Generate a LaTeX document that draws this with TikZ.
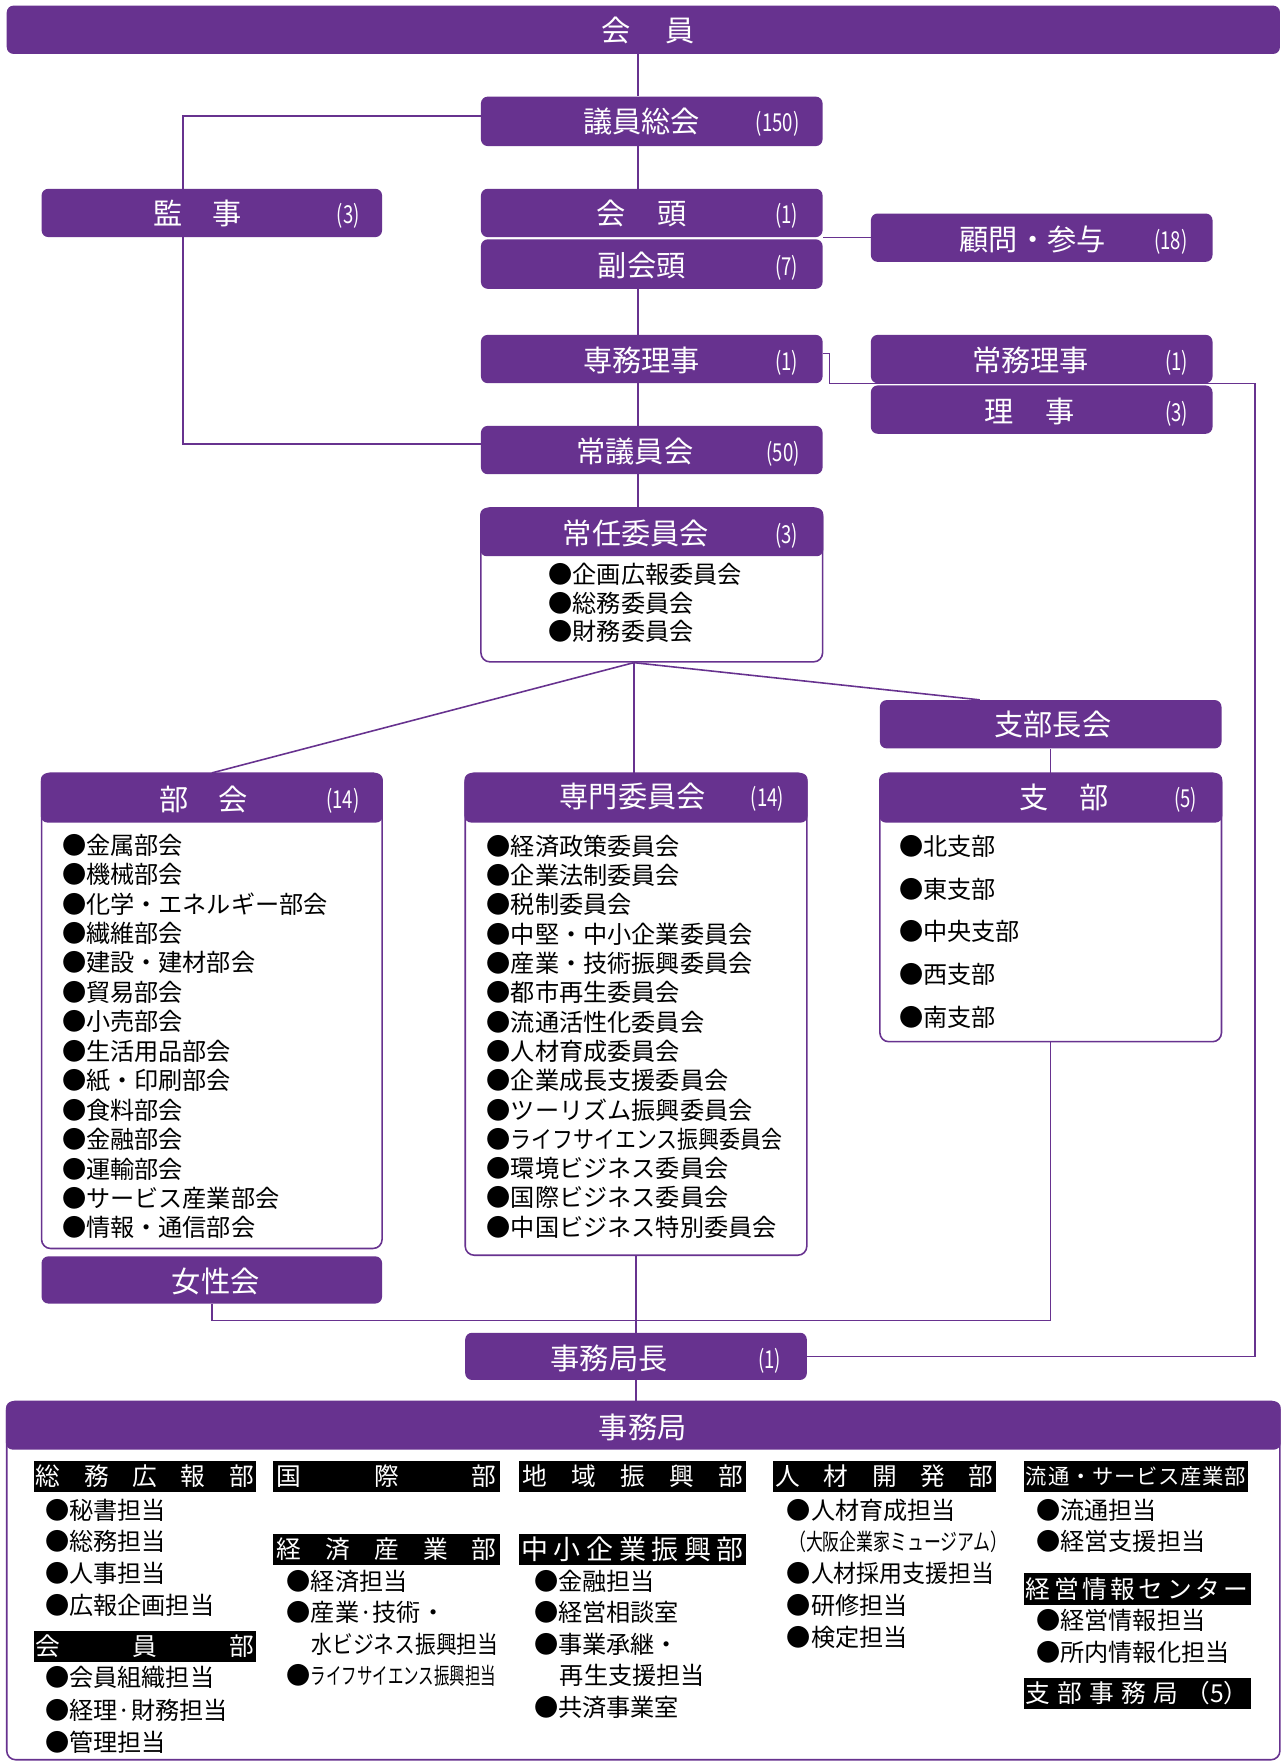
\documentclass[tikz,border=0pt]{standalone}
\usepackage{fontspec}
\newfontfamily\jp{Noto Sans CJK JP}
\newfontfamily\jpn[FakeStretch=0.75]{Noto Sans CJK JP}
\definecolor{pur}{RGB}{103,50,143}
\begin{document}
\begin{tikzpicture}[x=1pt,y=-1pt,
  pbox/.style={fill=pur, rounded corners=6pt, inner sep=0pt},
  obox/.style={draw=pur, fill=white, line width=1.4pt, rounded corners=8pt, inner sep=0pt},
  lbl/.style={text=white, font=\jp\fontsize{26}{26}\selectfont, inner sep=0pt},
  num/.style={text=white, font=\jpn\fontsize{22}{22}\selectfont, inner sep=0pt},
  item/.style={font=\jp\fontsize{21.5}{21.5}\selectfont, anchor=west, inner sep=0pt},
  conn/.style={draw=pur, line width=1.4pt},
  blk/.style={fill=black, text=white, inner sep=0pt, minimum height=28pt, font=\jp\fontsize{22}{22}\selectfont},
]
\useasboundingbox (0,0) rectangle (1141,1568);
\fill[white] (0,0) rectangle (1141,1568);

% ---------- filled boxes ----------
\node[pbox, minimum width=1133pt, minimum height=43pt] (kaiin) at (572.5,26.5) {};
\node[pbox, minimum width=304pt, minimum height=44pt] (giin) at (580,108) {};
\node[pbox, minimum width=303pt, minimum height=43pt] (kanji) at (188.5,189.5) {};
\node[pbox, minimum width=304pt, minimum height=43pt] (kaito) at (580,189.5) {};
\node[pbox, minimum width=304pt, minimum height=44pt] (fukukaito) at (580,235) {};
\node[pbox, minimum width=304pt, minimum height=43pt] (komon) at (927,211.5) {};
\node[pbox, minimum width=304pt, minimum height=43pt] (senmu) at (580,319.5) {};
\node[pbox, minimum width=304pt, minimum height=43pt] (jomu) at (927,319.5) {};
\node[pbox, minimum width=304pt, minimum height=43pt] (riji) at (927,364.5) {};
\node[pbox, minimum width=304pt, minimum height=43pt] (jogiin) at (580,400.5) {};
\node[pbox, minimum width=304pt, minimum height=43pt] (shibucho) at (935,644.5) {};
\node[pbox, minimum width=303pt, minimum height=42pt] (josei) at (188.5,1139) {};
\node[pbox, minimum width=304pt, minimum height=42pt] (kyokucho) at (566,1207) {};

% ---------- boxes with header ----------
\node[obox, minimum width=304pt, minimum height=137pt] (jonin) at (580,520.5) {};
\node[pbox, minimum width=305.4pt, minimum height=43pt] (joninh) at (580,473.5) {};
\node[obox, minimum width=303pt, minimum height=423pt] (bukai) at (188.5,899.5) {};
\node[pbox, minimum width=304.4pt, minimum height=44pt] (bukaih) at (188.5,710) {};
\node[obox, minimum width=304pt, minimum height=429pt] (senmon) at (566,902.5) {};
\node[pbox, minimum width=305.4pt, minimum height=44pt] (senmonh) at (566,710) {};
\node[obox, minimum width=304pt, minimum height=239pt] (shibu) at (935,807.5) {};
\node[pbox, minimum width=305.4pt, minimum height=44pt] (shibuh) at (935,710) {};
\node[obox, minimum width=1133pt, minimum height=319pt] (jimu) at (572.5,1406.5) {};
\node[pbox, minimum width=1134.4pt, minimum height=43pt] (jimuh) at (572.5,1268.5) {};

% ---------- connectors ----------
\coordinate (spine) at (568,0);
\draw[conn] (kaiin.south -| spine) -- (giin.north -| spine);
\draw[conn] (giin.south -| spine) -- (kaito.north -| spine);
\draw[conn] (fukukaito.south -| spine) -- (senmu.north -| spine);
\draw[conn] (senmu.south -| spine) -- (jogiin.north -| spine);
\draw[conn] (jogiin.south -| spine) -- (joninh.north -| spine);
\coordinate (kx) at (163,0);
\draw[conn] ([yshift=5pt]giin.west) -| (kanji.north -| kx);
\draw[conn] (kanji.south -| kx) |- ([yshift=5.5pt]jogiin.west);
\draw[conn] (komon.west) -- (komon.west -| kaito.east);
\coordinate (rx) at (1117,0);
\draw[conn] ([yshift=5pt]senmu.east) -- ++(6,0) |- (jomu.south west) -- (jomu.south -| rx) |- (kyokucho.east);
\coordinate (fan) at ([xshift=-16pt]jonin.south);
\coordinate (shx) at (872,0);
\draw[conn] (fan) -- (bukaih.north);
\draw[conn] (fan) -- (fan |- senmonh.north);
\draw[conn] (fan) -- (shibucho.north -| shx);
\draw[conn] (shibucho.south) -- (shibuh.north);
\draw[conn] (josei.south) -- ++(0,15) -| (shibu.south);
\draw[conn] (senmon.south) -- (kyokucho.north);
\draw[conn] (kyokucho.south) -- (jimuh.north -| kyokucho.south);

% ---------- labels ----------
\node[lbl] (tkaiin) at (576.5,27) {会\hspace{31pt}員};
\node[lbl] (tgiin) at (571,108) {議員総会};
\node[num] (ngiin) at (692,110) {(150)};
\node[lbl] (tkanji) at (176,190) {監\hspace{27pt}事};
\node[num] (nkanji) at (310,192) {(3)};
\node[lbl] (tkaito) at (571,190) {会\hspace{29pt}頭};
\node[num] (nkaito) at (700,192) {(1)};
\node[lbl] (tfuku) at (571,236) {副会頭};
\node[num] (nfuku) at (700,238) {(7)};
\node[lbl] (tkomon) at (919,213) {顧問・参与};
\node[num] (nkomon) at (1042,215) {(18)};
\node[lbl] (tsenmu) at (571,321) {専務理事};
\node[num] (nsenmu) at (700,323) {(1)};
\node[lbl] (tjomu) at (917,321) {常務理事};
\node[num] (njomu) at (1047,323) {(1)};
\node[lbl] (triji) at (916,366) {理\hspace{28pt}事};
\node[num] (nriji) at (1047,368) {(3)};
\node[lbl] (tjogiin) at (565,402) {常議員会};
\node[num] (njogiin) at (697,404) {(50)};
\node[lbl] (tjonin) at (566,475) {常任委員会};
\node[num] (njonin) at (700,477) {(3)};
\node[lbl] (tbukai) at (181,711) {部\hspace{26pt}会};
\node[num] (nbukai) at (305,713) {(14)};
\node[lbl] (tsenmon) at (563,709) {専門委員会};
\node[num] (nsenmon) at (683,711) {(14)};
\node[lbl] (tshibucho) at (937,645) {支部長会};
\node[lbl] (tshibu) at (947,710) {支\hspace{27pt}部};
\node[num] (nshibu) at (1055,712) {(5)};
\node[lbl] (tjosei) at (192,1140) {女性会};
\node[lbl] (tkyoku) at (542,1209) {事務局長};
\node[num] (nkyoku) at (685,1211) {(1)};
\node[lbl] (tjimu) at (572,1270) {事務局};

% ---------- lists ----------
\foreach \t [count=\i from 0] in {●企画広報委員会,●総務委員会,●財務委員会}
  \node[item] (jn\i) at (488,{511+25.5*\i}) {\t};
\foreach \t [count=\i from 0] in {●金属部会,●機械部会,●化学・エネルギー部会,●繊維部会,●建設・建材部会,●貿易部会,●小売部会,●生活用品部会,●紙・印刷部会,●食料部会,●金融部会,●運輸部会,●サービス産業部会,●情報・通信部会}
  \node[item] (bk\i) at (55,{752+26.2*\i}) {\t};
\foreach \t [count=\i from 0] in {●経済政策委員会,●企業法制委員会,●税制委員会,●中堅・中小企業委員会,●産業・技術振興委員会,●都市再生委員会,●流通活性化委員会,●人材育成委員会,●企業成長支援委員会,●ツーリズム振興委員会,{●\scalebox{0.866}[1]{ライフサイエンス振興委員会}},●環境ビジネス委員会,●国際ビジネス委員会,●中国ビジネス特別委員会}
  \node[item] (sm\i) at (433,{753+26.08*\i}) {\t};
\foreach \t [count=\i from 0] in {●北支部,●東支部,●中央支部,●西支部,●南支部}
  \node[item] (sb\i) at (800,{753+38*\i}) {\t};

% ---------- secretariat ----------
\node[blk, minimum width=198pt] (b1) at (129,1314) {\makebox[194pt]{総\hfill 務\hfill 広\hfill 報\hfill 部}};
\node[blk, minimum width=198pt] (b2) at (129,1465) {\makebox[194pt]{会\hfill 員\hfill 部}};
\node[blk, minimum width=202pt] (b3) at (344,1314) {\makebox[196pt]{国\hfill 際\hfill 部}};
\node[blk, minimum width=202pt] (b4) at (344,1379) {\makebox[196pt]{経\hfill 済\hfill 産\hfill 業\hfill 部}};
\node[blk, minimum width=202pt] (b5) at (563,1314) {\makebox[196pt]{地\hfill 域\hfill 振\hfill 興\hfill 部}};
\node[blk, minimum width=202pt, font=\jp\fontsize{24}{24}\selectfont] (b6) at (563,1379) {\makebox[198pt]{中\hfill 小\hfill 企\hfill 業\hfill 振\hfill 興\hfill 部}};
\node[blk, minimum width=198pt] (b7) at (787,1314) {\makebox[194pt]{人\hfill 材\hfill 開\hfill 発\hfill 部}};
\node[blk, minimum width=200pt, font=\jp\fontsize{19}{19}\selectfont] (b8) at (1011,1314) {\makebox[196pt]{流\hfill 通\hfill ・\hfill サ\hfill ー\hfill ビ\hfill ス\hfill 産\hfill 業\hfill 部}};
\node[blk, minimum width=202pt] (b9) at (1012,1414) {\makebox[198pt]{経\hfill 営\hfill 情\hfill 報\hfill セ\hfill ン\hfill タ\hfill ー}};
\node[blk, minimum width=202pt] (b10) at (1012,1507) {\makebox[198pt]{支\hfill 部\hfill 事\hfill 務\hfill 局\hfill （5）}};

% column 1
\node[item] (c1a) at (40,1344) {●秘書担当};
\node[item] (c1b) at (40,1372) {●総務担当};
\node[item] (c1c) at (40,1400) {●人事担当};
\node[item] (c1d) at (40,1429) {●広報企画担当};
\node[item] (c1e) at (40,1493) {●会員組織担当};
\node[item] (c1f) at (40,1522) {●経理·財務担当};
\node[item] (c1g) at (40,1550) {●管理担当};
% column 2
\node[item] (c2a) at (255,1407) {●経済担当};
\node[item] (c2b) at (255,1435) {●産業·技術・};
\node[item] (c2c) at (277,1463) {\scalebox{0.86}[1]{水ビジネス振興担当}};
\node[item] (c2d) at (255,1491) {●\scalebox{0.64}[0.95]{ライフサイエンス振興担当}};
% column 3
\node[item] (c3a) at (475,1407) {●金融担当};
\node[item] (c3b) at (475,1435) {●経営相談室};
\node[item] (c3c) at (475,1463) {●事業承継・};
\node[item] (c3d) at (498,1491) {再生支援担当};
\node[item] (c3e) at (475,1519) {●共済事業室};
% column 4
\node[item] (c4a) at (700,1344) {●人材育成担当};
\node[item] (c4b) at (702,1372) {\scalebox{0.7}[0.95]{（大阪企業家ミュージアム）}};
\node[item] (c4c) at (700,1400) {●\scalebox{0.95}[1]{人材採用支援担当}};
\node[item] (c4d) at (700,1429) {●研修担当};
\node[item] (c4e) at (700,1457) {●検定担当};
% column 5
\node[item] (c5a) at (922,1344) {●流通担当};
\node[item] (c5b) at (922,1372) {●経営支援担当};
\node[item] (c5c) at (922,1442) {●経営情報担当};
\node[item] (c5d) at (922,1470) {●所内情報化担当};
\end{tikzpicture}
\end{document}
